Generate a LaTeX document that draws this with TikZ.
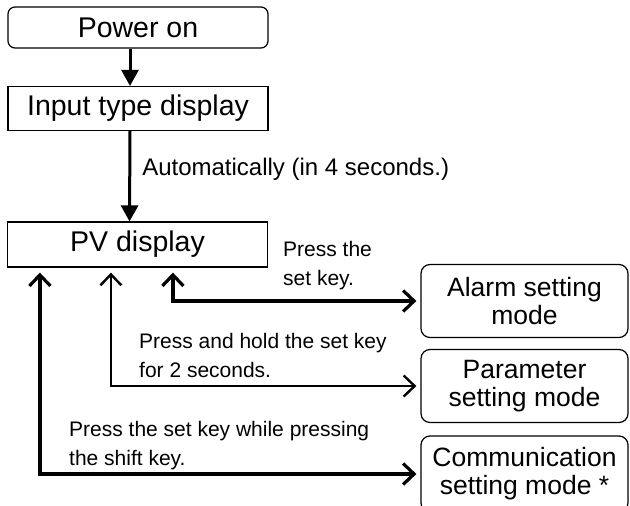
\documentclass[tikz,border=0pt]{standalone}
\usepackage{fontspec}
\setmainfont{Liberation Sans}
\usetikzlibrary{arrows.meta}

\begin{document}
\begin{tikzpicture}[x=1pt, y=-1pt,
    box/.style={draw, line width=1.2pt, minimum width=260pt, minimum height=44pt, inner sep=0pt, font=\fontsize{28.5}{30}\selectfont},
    roundbox/.style={box, rounded corners=7pt},
    modebox/.style={draw, line width=1.2pt, rounded corners=9pt, minimum width=207pt, minimum height=73pt, align=center, inner sep=0pt, font=\fontsize{26.5}{28}\selectfont},
    note/.style={anchor=base west, inner sep=0pt, align=left, font=\fontsize{21}{28.5}\selectfont},
    down/.style={line width=3pt, -{Triangle[length=16pt,width=17pt]}},
    both/.style={line width=3.2pt, {Straight Barb[length=11pt,width=21pt]}-{Straight Barb[length=11pt,width=21pt]}, shorten >=4pt}]
    \clip (0,0) rectangle (630,506);

    % Boxes
    \node[roundbox, minimum height=41pt] (power) at (138,27.5) {Power on};
    \node[box] (input) at (138,108.5) {Input type display};
    \node[box, minimum height=45pt] (pv) at (137.5,244.5) {PV display};
    \node[modebox] (alarm) at (524.5,301) {Alarm setting\\mode};
    \node[modebox] (param) at (524.5,386) {Parameter\\setting mode};
    \node[modebox, minimum height=76pt] (comm) at (524.5,474) {Communication\\setting mode *};

    % Arrows
    \draw[down] ([xshift=-8pt]power.south) -- ([xshift=-8pt]input.north);
    \draw[down] ([xshift=-8pt]input.south) -- node[note, font=\fontsize{24}{28}\selectfont, pos=0.49, xshift=11pt] {Automatically (in 4 seconds.)} ([xshift=-8pt]pv.north);
    \draw[both] ([xshift=166pt, yshift=-5pt]pv.south west) |- (alarm.west);
    \draw[both, line width=2.4pt] ([xshift=104pt, yshift=-5pt]pv.south west) |- (param.west);
    \draw[both] ([xshift=33pt, yshift=-5pt]pv.south west) |- (comm.west);

    % Notes
    \node[note] (setnote) at (283,285) {Press the\\set key.};
    \node[note] (holdnote) at (139,377) {Press and hold the set key\\for 2 seconds.};
    \node[note] (shiftnote) at (69,465) {Press the set key while pressing\\the shift key.};
\end{tikzpicture}
\end{document}
